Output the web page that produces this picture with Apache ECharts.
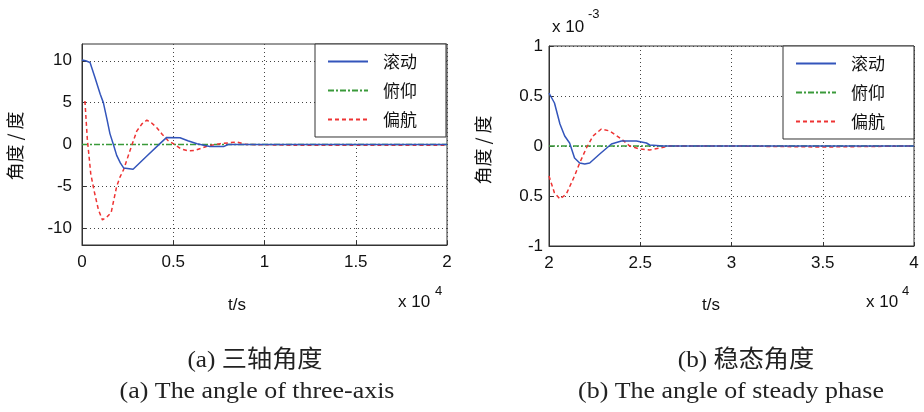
<!DOCTYPE html>
<html>
<head>
<meta charset="utf-8">
<script src="https://cdn.jsdelivr.net/npm/echarts@6/dist/echarts.min.js"></script>
<style>
  html, body { margin: 0; padding: 0; background: #fff; }
  #main { width: 924px; height: 412px; }
</style>
</head>
<body>
<div id="main"></div>
<script>
// (a) 三轴角度, t in 10^4 s
var rollT1 = [0, 0.02, 0.044, 0.071, 0.1, 0.117, 0.137, 0.153, 0.172, 0.19, 0.21, 0.228, 0.28, 0.354, 0.427, 0.464, 0.537, 0.58, 0.63, 0.7, 0.776, 0.8, 2.0]
var rollV1 = [10.1, 10, 9.8, 8.0, 6.0, 5.0, 3.0, 1.3, 0, -1.3, -2.2, -2.8, -2.95, -1.4, 0.1, 0.85, 0.8, 0.45, 0.1, -0.25, -0.25, 0, 0]
var pitchT1 = [0, 0.5, 1.0, 1.5, 2.0]
var pitchV1 = [0, 0, 0, 0, 0]
var yawT1 = [0.016, 0.029, 0.048, 0.066, 0.09, 0.112, 0.135, 0.16, 0.19, 0.208, 0.228, 0.265, 0.3, 0.33, 0.355, 0.38, 0.41, 0.44, 0.47, 0.5, 0.54, 0.58, 0.62, 0.685, 0.758, 0.85, 0.9, 1.2, 1.6, 2.0]
var yawV1 = [5.2, 0.7, -3.5, -5.5, -7.8, -9.0, -8.7, -8.1, -5.0, -3.9, -3.0, -0.6, 1.6, 2.5, 2.9, 2.6, 2.0, 1.2, 0.5, 0.1, -0.5, -0.75, -0.7, -0.2, 0.1, 0.3, 0.0, -0.1, -0.1, -0.1]

// (b) 稳态角度, t in 10^4 s, angle in 10^-3
var rollT2 = [2.0, 2.03, 2.06, 2.086, 2.113, 2.14, 2.168, 2.196, 2.223, 2.278, 2.342, 2.397, 2.479, 2.534, 2.552, 2.625, 3.0, 3.5, 4.0]
var rollV2 = [0.53, 0.43, 0.22, 0.1, 0.03, -0.12, -0.17, -0.18, -0.17, -0.08, 0.02, 0.05, 0.05, 0.03, 0.01, 0, 0, 0, 0]
var pitchT2 = [2.0, 2.5, 3.0, 3.5, 4.0]
var pitchV2 = [0, 0, 0, 0, 0]
var yawT2 = [2.0, 2.03, 2.06, 2.095, 2.14, 2.168, 2.205, 2.241, 2.287, 2.333, 2.397, 2.442, 2.497, 2.552, 2.607, 2.662, 3.0, 3.5, 4.0]
var yawV2 = [-0.3, -0.47, -0.53, -0.48, -0.3, -0.17, -0.02, 0.1, 0.17, 0.15, 0.07, 0, -0.03, -0.04, -0.02, 0, 0, -0.01, 0]

var names = ['滚动', '俯仰', '偏航']
var yTicks1 = [-10, -5, 0, 5, 10]

function pairs(t, v) {
  return t.map(function (x, i) { return [x, v[i]] })
}

var sans = 'Liberation Sans, Arial, sans-serif'
var serif = 'Liberation Serif, Noto Sans CJK SC, serif'
var cjk = 'Noto Sans CJK SC, sans-serif'

var chart = echarts.init(document.getElementById('main'))

function xAxisOf(gridIndex, min, max) {
  return {
    type: 'value',
    gridIndex: gridIndex,
    min: min,
    max: max,
    interval: 0.5,
    axisLine: { show: true, onZero: false, lineStyle: { color: '#333', width: 1 } },
    axisTick: { show: true, inside: true, length: 4, lineStyle: { color: '#333' } },
    axisLabel: { color: '#111', fontSize: 17, fontFamily: sans, margin: 9 },
    splitLine: { show: true, lineStyle: { color: '#444', type: [1, 3], width: 1 } }
  }
}

function legendOf(left, top) {
  return {
    data: names,
    orient: 'vertical',
    left: left,
    top: top,
    itemWidth: 40,
    itemHeight: 14,
    itemGap: 12,
    padding: [9, 29, 9, 12],
    borderColor: '#333',
    borderWidth: 1,
    borderRadius: 0,
    backgroundColor: '#fff',
    itemStyle: { opacity: 0 }, // 只留线段，不画圆点
    textStyle: { color: '#111', fontSize: 17, fontFamily: cjk, lineHeight: 16, padding: [0, 0, 0, 10] }
  }
}

var colors = ['#3355bb', '#3a9a3a', '#ee3333']
var lineTypes = ['solid', [6, 2, 2, 2], [4, 3]]

function seriesOf(idx, name, t, v, k) {
  return {
    name: name,
    type: 'line',
    xAxisIndex: idx,
    yAxisIndex: idx,
    data: pairs(t, v),
    symbol: 'none',
    silent: true,
    z: k === 0 ? 3 : 2,
    lineStyle: { color: colors[k], width: 1.5, type: lineTypes[k] },
    itemStyle: { color: colors[k] }
  }
}

function label(x, y, text, font, extra) {
  var el = { type: 'text', x: x, y: y, style: { text: text, font: font, fill: '#111', align: 'left', verticalAlign: 'middle' } }
  if (extra) {
    for (var k in extra) el[k] = extra[k]
  }
  return el
}

function caption(x, y, text, sx) {
  return { type: 'text', x: x, y: y, scaleX: sx, style: { text: text, font: '24px ' + serif, fill: '#222', align: 'center', verticalAlign: 'middle' } }
}

var option = {
  animation: false,
  backgroundColor: '#fff',
  color: colors,
  legend: [legendOf(315, 44), legendOf(783, 46)],
  grid: [
    { left: 82, top: 44, width: 365, height: 201, show: true, borderColor: '#333', borderWidth: 1, backgroundColor: '#fff' },
    { left: 549, top: 46, width: 365, height: 200, show: true, borderColor: '#333', borderWidth: 1, backgroundColor: '#fff' }
  ],
  xAxis: [xAxisOf(0, 0, 2), xAxisOf(1, 2, 4)],
  yAxis: [
    {
      type: 'value',
      gridIndex: 0,
      min: -12,
      max: 12,
      axisLine: { show: true, lineStyle: { color: '#333', width: 1 } },
      axisTick: { show: true, inside: true, length: 4, customValues: yTicks1, lineStyle: { color: '#333' } },
      axisLabel: { color: '#111', fontSize: 17, fontFamily: sans, margin: 10, customValues: yTicks1 },
      splitLine: { show: true, lineStyle: { color: '#444', type: [1, 3], width: 1 } }
    },
    {
      type: 'value',
      gridIndex: 1,
      min: -1,
      max: 1,
      interval: 0.5,
      axisLine: { show: true, lineStyle: { color: '#333', width: 1 } },
      axisTick: { show: true, inside: true, length: 4, lineStyle: { color: '#333' } },
      axisLabel: {
        color: '#111', fontSize: 17, fontFamily: sans, margin: 6,
        // 原图中 -0.5 的负号被纵轴名遮住
        formatter: function (v) { return v === -0.5 ? '0.5' : String(v) }
      },
      splitLine: { show: true, lineStyle: { color: '#444', type: [1, 3], width: 1 } }
    }
  ],
  graphic: [
    label(15, 146, '角度 / 度', '18px ' + cjk, { rotation: Math.PI / 2, style: { text: '角度 / 度', font: '18px ' + cjk, fill: '#111', align: 'center', verticalAlign: 'middle' } }),
    label(483, 150, '角度 / 度', '18px ' + cjk, { rotation: Math.PI / 2, style: { text: '角度 / 度', font: '18px ' + cjk, fill: '#111', align: 'center', verticalAlign: 'middle' } }),
    label(228, 305, 't/s', '17px ' + sans),
    label(702, 305, 't/s', '17px ' + sans),
    label(398, 302, 'x 10', '17px ' + sans),
    label(435, 291, '4', '13px ' + sans),
    label(866, 302, 'x 10', '17px ' + sans),
    label(902, 291, '4', '13px ' + sans),
    label(552, 27, 'x 10', '17px ' + sans),
    label(588, 14, '-3', '13px ' + sans),
    caption(255, 361, '(a) 三轴角度', 1.05),
    caption(257, 392, '(a) The angle of three-axis', 1.08),
    caption(746, 361, '(b) 稳态角度', 1.05),
    caption(731, 392, '(b) The angle of steady phase', 1.08)
  ],
  series: [
    seriesOf(0, names[0], rollT1, rollV1, 0),
    seriesOf(0, names[1], pitchT1, pitchV1, 1),
    seriesOf(0, names[2], yawT1, yawV1, 2),
    seriesOf(1, names[0], rollT2, rollV2, 0),
    seriesOf(1, names[1], pitchT2, pitchV2, 1),
    seriesOf(1, names[2], yawT2, yawV2, 2)
  ]
}

chart.setOption(option)
</script>
</body>
</html>
